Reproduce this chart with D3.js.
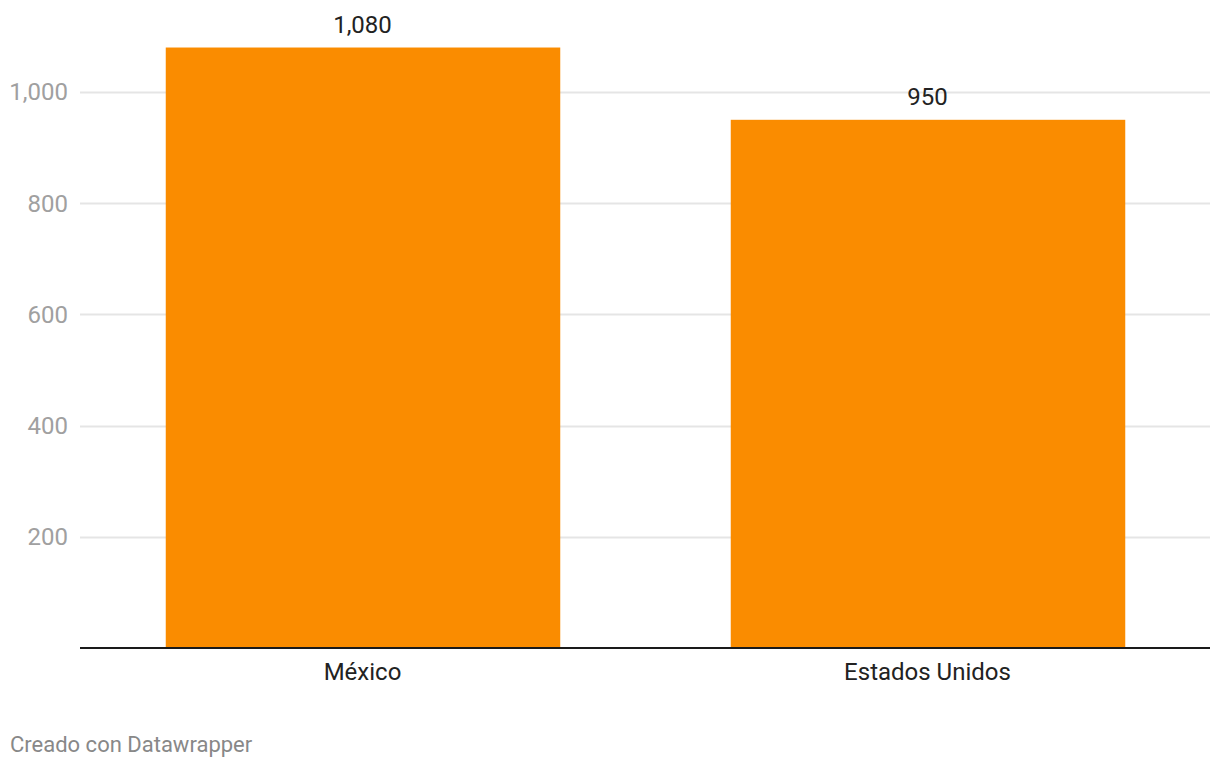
<!DOCTYPE html>
<html>
<head>
<meta charset="utf-8">
<script src="https://cdn.jsdelivr.net/npm/d3@7"></script>
<style>
  body { margin: 0; background: #fff; font-family: Roboto, sans-serif; }
  .grid line { stroke: #e5e5e5; }
  .ytick text { fill: #a0a0a0; font-size: 24px; }
</style>
</head>
<body>
<div id="chart"></div>
<script>
// Chart data
var categories = ['México', 'Estados Unidos'];
var values = [1080, 950];
var yTicks = [200, 400, 600, 800, 1000];

var width = 1220, height = 768;
var margins = { left: 80, right: 10, top: 0, bottom: 120 };

var svg = d3.select('#chart').append('svg')
            .attr('width', width)
            .attr('height', height);

var x = d3.scaleBand()
          .domain(categories)
          .range([margins.left, width - margins.right])
          .paddingInner(0.3)
          .paddingOuter(0.15);

// baseline at 648, 1000 at 92
var y = d3.scaleLinear()
          .domain([0, 1000])
          .range([648, 92]);

var fmt = d3.format(',');

// gridlines
var grid = svg.append('g').classed('grid', true);
grid.selectAll('line').data(yTicks).enter()
    .append('line')
    .attr('x1', margins.left)
    .attr('x2', width - margins.right)
    .attr('y1', function(d) { return Math.round(y(d)) + 0.5; })
    .attr('y2', function(d) { return Math.round(y(d)) + 0.5; })
    .attr('stroke-width', 2);

// y tick labels
svg.append('g').classed('ytick', true)
   .selectAll('text').data(yTicks).enter()
   .append('text')
   .attr('x', 68)
   .attr('y', function(d) { return y(d); })
   .attr('dy', '0.35em')
   .attr('text-anchor', 'end')
   .text(function(d) { return fmt(d); });

// bars
svg.append('g').selectAll('rect').data(values).enter()
   .append('rect')
   .attr('x', function(d, i) { return x(categories[i]) + 1; })
   .attr('width', x.bandwidth() - 1)
   .attr('y', function(d) { return y(d); })
   .attr('height', function(d) { return y(0) - y(d); })
   .style('fill', '#fa8c00');

// value labels
svg.append('g').selectAll('text').data(values).enter()
   .append('text')
   .attr('x', function(d, i) { return x(categories[i]) + x.bandwidth() / 2; })
   .attr('y', function(d) { return y(d) - 15; })
   .attr('text-anchor', 'middle')
   .style('font-size', '24px')
   .style('fill', '#222')
   .text(function(d) { return fmt(d); });

// baseline
svg.append('line')
   .attr('x1', margins.left)
   .attr('x2', width - margins.right)
   .attr('y1', y(0))
   .attr('y2', y(0))
   .attr('stroke', '#1a1a1a')
   .attr('stroke-width', 2);

// category labels
svg.append('g').selectAll('text').data(categories).enter()
   .append('text')
   .attr('x', function(d) { return x(d) + x.bandwidth() / 2; })
   .attr('y', 680)
   .attr('text-anchor', 'middle')
   .style('font-size', '24px')
   .style('fill', '#222')
   .text(function(d) { return d; });

// footer
svg.append('text')
   .attr('x', 10)
   .attr('y', 752)
   .style('font-size', '22px')
   .style('fill', '#888')
   .text('Creado con Datawrapper');
</script>
</body>
</html>
